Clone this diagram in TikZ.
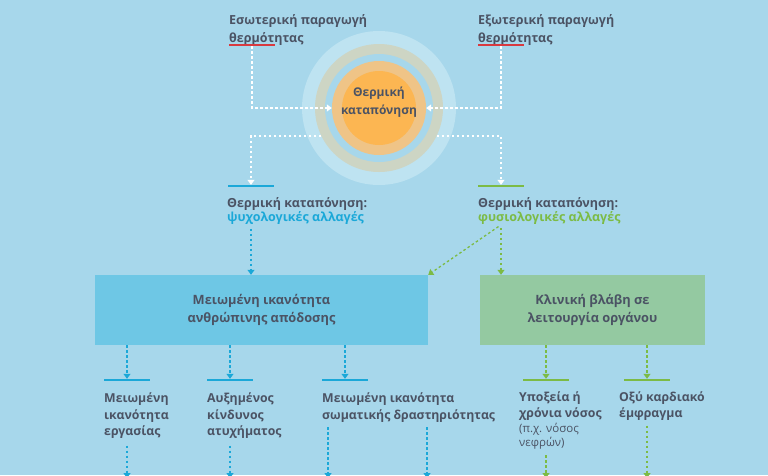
\documentclass[tikz,border=0pt]{standalone}
\usepackage{fontspec}
\setmainfont{Open Sans}
\usetikzlibrary{arrows.meta}
\definecolor{bgc}{HTML}{A7D7EB}
\definecolor{pale}{HTML}{BEE3F1}
\definecolor{tan}{HTML}{CDD5C4}
\definecolor{lor}{HTML}{EFC487}
\definecolor{org}{HTML}{FCB652}
\definecolor{txt}{HTML}{4B5364}
\definecolor{cy}{HTML}{1BA8D8}
\definecolor{gr}{HTML}{7CBB45}
\definecolor{rd}{HTML}{D8393F}
\definecolor{bbox}{HTML}{6EC7E5}
\definecolor{gbox}{HTML}{94C9A1}
\newcommand{\sm}{\mdseries\fontsize{11.5}{14}\selectfont}

\begin{document}
\begin{tikzpicture}[x=1pt, y=-1pt, text=txt, font=\bfseries\fontsize{12.3}{16.5}\selectfont,
    lbl/.style = {anchor=north west, inner sep=0, align=left},
    uline/.style = {fill=#1, minimum width=46pt, minimum height=2pt, inner sep=0},
    pad/.style = {fill=#1, minimum height=70pt, inner sep=0, align=center, font=\bfseries\fontsize{12.8}{18.5}\selectfont},
    link/.style = {#1, line width=1.3pt, dash pattern=on 2.5pt off 2.5pt, -{Triangle[width=7pt,length=5pt]}}]
    \useasboundingbox (0,0) rectangle (768,475);
    \clip (0,0) rectangle (768,475);
    \fill[bgc] (0,0) rectangle (768,475);
    \fill[pale] (379,108) circle (77);
    \node[circle, fill=tan, minimum size=128pt, inner sep=0] (halo) at (379,108) {};
    \fill[bgc] (halo) circle (54);
    \node[circle, fill=lor, minimum size=94pt, inner sep=0] (core) at (379,108) {};
    \fill[org] (core) circle (37);
    \node[align=center, inner sep=0, font=\bfseries\fontsize{12}{18}\selectfont] (heat) at (379,102) {Θερμική\\καταπόνηση};

    \node[lbl, font=\bfseries\fontsize{12.5}{18}\selectfont] (esw) at (229,14) {Εσωτερική παραγωγή\\θερμότητας};
    \node[lbl, font=\bfseries\fontsize{12.5}{18}\selectfont] (exw) at (478,14) {Εξωτερική παραγωγή\\θερμότητας};
    \node[uline=rd] (ru1) at (252,45) {};
    \node[uline=rd] (ru2) at (501,45) {};
    \node[uline=cy] (bu) at (251,186) {};
    \node[uline=gr] (gu) at (501,186) {};
    \node[lbl, font=\bfseries\fontsize{12.5}{14.5}\selectfont] (psy) at (227,197) {Θερμική καταπόνηση:\\{\color{cy}ψυχολογικές αλλαγές}};
    \node[lbl, font=\bfseries\fontsize{12.5}{14.5}\selectfont] (phy) at (478,197) {Θερμική καταπόνηση:\\{\color{gr}φυσιολογικές αλλαγές}};

    \node[pad=bbox, minimum width=333pt] (perf) at (261.5,310) {Μειωμένη ικανότητα\\ανθρώπινης απόδοσης};
    \node[pad=gbox, minimum width=225pt] (organ) at (592.5,310) {Κλινική βλάβη σε\\λειτουργία οργάνου};

    \node[uline=cy] (l1) at (127,380) {};
    \node[uline=cy] (l2) at (230,380) {};
    \node[uline=cy] (l3) at (345,380) {};
    \node[uline=gr] (l4) at (546,380) {};
    \node[uline=gr] (l5) at (647,380) {};
    \node[lbl] (t1) at (104,392.5) {Μειωμένη\\ικανότητα\\εργασίας};
    \node[lbl] (t2) at (207,392.5) {Αυξημένος\\κίνδυνος\\ατυχήματος};
    \node[lbl] (t3) at (322,392.5) {Μειωμένη ικανότητα\\σωματικής δραστηριότητας};
    \node[lbl] (t4) at (519,391) {Υποξεία ή\\χρόνια νόσος\\[-1.5pt]{\sm (π.χ. νόσος}\\[-2.5pt]{\sm νεφρών)}};
    \node[lbl] (t5) at (619,391) {Οξύ καρδιακό\\έμφραγμα};
    \coordinate (z1) at (127,478);
    \coordinate (z2) at (230,478);
    \coordinate (z3) at (328,478);
    \coordinate (z4) at (427,478);
    \coordinate (z5) at (546,478);
    \coordinate (z6) at (647,478);

    \draw[link=white] (ru1) |- (core);
    \draw[link=white] (ru2) |- (core);
    \draw[link=white] (halo.206) -| (bu);
    \draw[link=white] (halo.334) -| (gu);
    \draw[link=cy, shorten <=4pt] (bu |- psy.south) -- (bu |- perf.north);
    \draw[link=gr, shorten <=3pt] (gu |- phy.south) -- (perf.north east);
    \draw[link=gr, shorten <=3pt] (gu |- phy.south) -- (gu |- organ.north);
    \draw[link=cy] (l1 |- perf.south) -- (l1);
    \draw[link=cy] (l2 |- perf.south) -- (l2);
    \draw[link=cy] (l3 |- perf.south) -- (l3);
    \draw[link=gr] (l4 |- organ.south) -- (l4);
    \draw[link=gr] (l5 |- organ.south) -- (l5);
    \draw[link=cy, shorten <=7pt] (t1.south -| z1) -- (z1);
    \draw[link=cy, shorten <=7pt] (t2.south -| z2) -- (z2);
    \draw[link=cy, shorten <=5pt] (t3.south -| z3) -- (z3);
    \draw[link=cy, shorten <=5pt] (t3.south -| z4) -- (z4);
    \draw[link=gr, shorten <=6pt] (t4.south -| z5) -- (z5);
    \draw[link=gr, shorten <=5pt] (t5.south -| z6) -- (z6);
\end{tikzpicture}
\end{document}
